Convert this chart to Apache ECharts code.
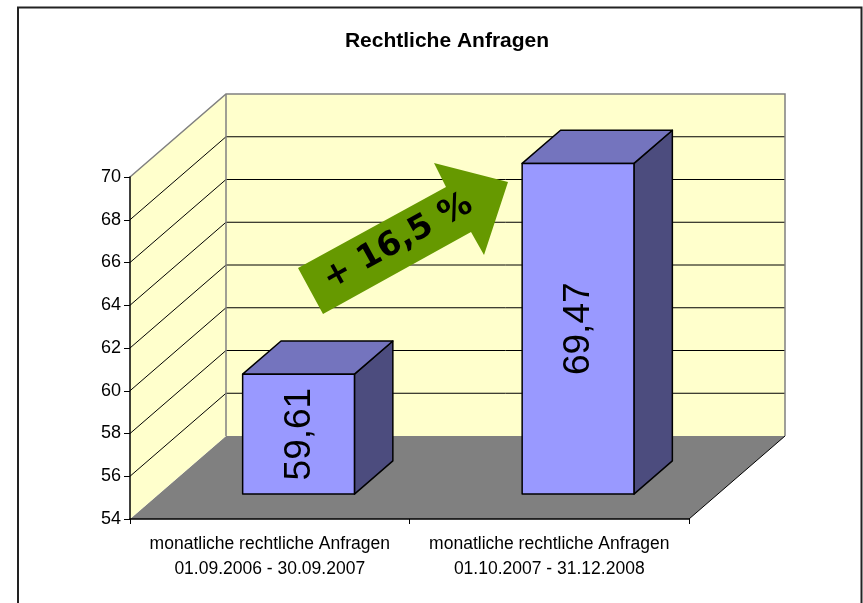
<!DOCTYPE html>
<html>
<head>
<meta charset="utf-8">
<title>Rechtliche Anfragen</title>
<script src="https://cdn.jsdelivr.net/npm/echarts@6/dist/echarts.min.js"></script>
<style>
    html, body { margin: 0; padding: 0; background: #fff; }
    #chart { width: 863px; height: 603px; }
</style>
</head>
<body>
<div id="chart"></div>
<script>
    // data
    const categories = [
        'monatliche rechtliche Anfragen\n01.09.2006 - 30.09.2007',
        'monatliche rechtliche Anfragen\n01.10.2007 - 31.12.2008'
    ];
    const values = [59.61, 69.47];
    const valueLabels = ['59,61', '69,47'];
    const yTicks = [54, 56, 58, 60, 62, 64, 66, 68, 70];
    const growthLabel = '+ 16,5 %';

    const yMin = yTicks[0];
    const yMax = yTicks[yTicks.length - 1];

    // 3d look: depth vector of the floor, bar sits between 30% and 70% of it
    const DX = 96, DY = -83;
    const FRONT = 0.3, BACK = 0.7;

    const chart = echarts.init(document.getElementById('chart'), null, { renderer: 'canvas' });

    function renderWalls(params, api) {
        const cs = params.coordSys;
        const fx0 = cs.x, fx1 = cs.x + cs.width;
        const yb = api.coord([0, yMin])[1];
        const yt = api.coord([0, yMax])[1];
        const wall = '#FFFFCC', edge = '#808080';
        const children = [
            { type: 'polygon', shape: { points: [[fx0, yb], [fx1, yb], [fx1 + DX, yb + DY], [fx0 + DX, yb + DY]] },
              style: { fill: '#808080', stroke: null } },
            { type: 'polygon', shape: { points: [[fx0, yb], [fx0, yt], [fx0 + DX, yt + DY], [fx0 + DX, yb + DY]] },
              style: { fill: wall, stroke: null } },
            { type: 'polygon', shape: { points: [[fx0 + DX, yt + DY], [fx1 + DX, yt + DY], [fx1 + DX, yb + DY], [fx0 + DX, yb + DY]] },
              style: { fill: wall, stroke: null } }
        ];
        yTicks.slice(1, -1).forEach(function (v) {
            const y = api.coord([0, v])[1];
            children.push({ type: 'polyline', shape: { points: [[fx0, y], [fx0 + DX, y + DY], [fx1 + DX, y + DY]] },
                style: { fill: null, stroke: '#000', lineWidth: 1 } });
        });
        // wall edges
        children.push({ type: 'polyline', shape: { points: [[fx0, yt], [fx0 + DX, yt + DY], [fx1 + DX, yt + DY], [fx1 + DX, yb + DY]] },
            style: { fill: null, stroke: edge, lineWidth: 1.5 } });
        children.push({ type: 'line', shape: { x1: fx0 + DX, y1: yt + DY, x2: fx0 + DX, y2: yb + DY },
            style: { stroke: edge, lineWidth: 1.5 } });
        children.push({ type: 'line', shape: { x1: fx1, y1: yb, x2: fx1 + DX, y2: yb + DY },
            style: { stroke: '#000', lineWidth: 1 } });
        return { type: 'group', children: children };
    }

    function renderBar(params, api) {
        const i = api.value(0);
        const base = api.coord([i, yMin]);
        const top = api.coord([i, api.value(1)]);
        const w = api.size([1, 0])[0] * 0.4;
        const bx = DX * (BACK - FRONT), by = DY * (BACK - FRONT);
        const x0 = base[0] - w / 2 + DX * FRONT;
        const x1 = x0 + w;
        const yb = base[1] + DY * FRONT;
        const yt = top[1] + DY * FRONT;
        const line = { stroke: '#000', lineWidth: 1.5, lineJoin: 'round' };
        return {
            type: 'group',
            children: [
                { type: 'polygon', shape: { points: [[x1, yt], [x1 + bx, yt + by], [x1 + bx, yb + by], [x1, yb]] },
                  style: Object.assign({ fill: '#4C4C7E' }, line) },
                { type: 'polygon', shape: { points: [[x0, yt], [x1, yt], [x1 + bx, yt + by], [x0 + bx, yt + by]] },
                  style: Object.assign({ fill: '#7474BE' }, line) },
                { type: 'rect', shape: { x: x0, y: yt, width: w, height: yb - yt },
                  style: Object.assign({ fill: '#9999FF' }, line) },
                { type: 'text', x: (x0 + x1) / 2 + 1, y: (yt + yb) / 2, rotation: Math.PI / 2,
                  style: { text: valueLabels[params.dataIndex], x: 0, y: 0, align: 'center', verticalAlign: 'middle',
                           fontSize: 37, fontFamily: 'Liberation Sans, Arial, sans-serif', fill: '#000' } }
            ]
        };
    }

    const option = {
        backgroundColor: '#fff',
        animation: false,
        title: {
            text: 'Rechtliche Anfragen',
            left: 442,
            textAlign: 'center',
            top: 26,
            textStyle: { fontSize: 21, fontWeight: 'bold', color: '#000', fontFamily: 'Liberation Sans, Arial, sans-serif' }
        },
        grid: { left: 130, right: 174, top: 177, bottom: 84, containLabel: false, outerBoundsMode: 'none' },
        xAxis: {
            type: 'category',
            data: categories,
            z: 5,
            axisLine: { show: true, lineStyle: { color: '#000', width: 1.5 } },
            axisTick: { show: true, length: 5, lineStyle: { color: '#000' } },
            axisLabel: { color: '#000', fontSize: 17.5, lineHeight: 25, margin: 13,
                         fontFamily: 'Liberation Sans, Arial, sans-serif', interval: 0 },
            splitLine: { show: false }
        },
        yAxis: {
            type: 'value',
            min: yMin,
            max: yMax,
            interval: 2,
            z: 5,
            axisLine: { show: true, lineStyle: { color: '#000', width: 1.5 } },
            axisTick: { show: true, length: 6, lineStyle: { color: '#000' } },
            axisLabel: { color: '#000', fontSize: 18, margin: 9, fontFamily: 'Liberation Sans, Arial, sans-serif' },
            splitLine: { show: false }
        },
        series: [
            {
                type: 'custom',
                name: 'walls',
                silent: true,
                z: 1,
                renderItem: renderWalls,
                data: [[0, yMin]]
            },
            {
                type: 'custom',
                name: 'Rechtliche Anfragen',
                z: 3,
                renderItem: renderBar,
                data: values.map(function (v, i) { return [i, v]; })
            }
        ],
        graphic: [
            {   // frame
                type: 'rect', z: 0, silent: true,
                shape: { x: 18, y: 7.5, width: 843.5, height: 700 },
                style: { fill: null, stroke: '#222', lineWidth: 2 }
            },
            {   // growth arrow
                type: 'polygon', z: 10,
                shape: { points: [[298, 268], [446, 187], [434, 163], [508, 182], [484, 255], [471, 232], [323, 314]] },
                style: { fill: '#669900' }
            },
            {
                type: 'text', z: 11,
                x: 398, y: 242, rotation: 29 * Math.PI / 180,
                style: { text: growthLabel, x: 0, y: 0, align: 'center', verticalAlign: 'middle',
                         fontSize: 33, fontWeight: 'bold', fontFamily: 'DejaVu Sans, Verdana, sans-serif', fill: '#000' }
            }
        ]
    };

    chart.setOption(option);
</script>
</body>
</html>
